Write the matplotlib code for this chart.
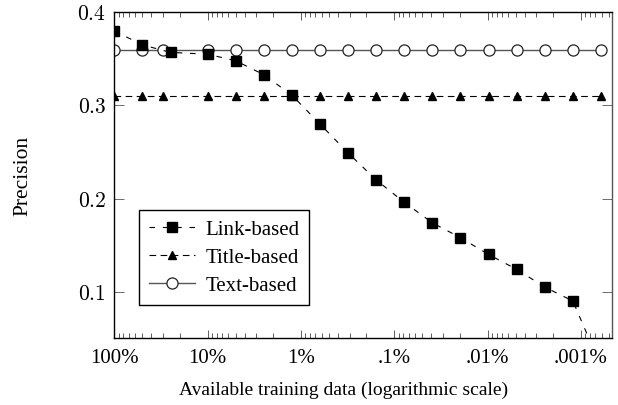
import matplotlib
matplotlib.use("Agg")
import matplotlib.pyplot as plt
from matplotlib.ticker import LogLocator, FixedLocator, FixedFormatter, NullFormatter

plt.rcParams['font.family'] = ['Liberation Serif', 'DejaVu Serif']
plt.rcParams['mathtext.fontset'] = 'cm'

# Data (percent of training data available)
x_link = [100, 50, 25, 10, 5, 2.5, 1.25, 0.625, 0.3125, 0.15625, 0.078125,
          0.0390625, 0.01953125, 0.009765625, 0.0048828125, 0.00244140625,
          0.001220703125, 0.0006103515625]
y_link = [0.380, 0.365, 0.357, 0.355, 0.348, 0.333, 0.311, 0.280, 0.249, 0.220,
          0.196, 0.174, 0.158, 0.140, 0.124, 0.105, 0.090, 0.020]

x_base = [100, 50, 30, 10, 5, 2.5, 1.25, 0.625, 0.3125, 0.15625, 0.078125,
          0.0390625, 0.01953125, 0.009765625, 0.0048828125, 0.00244140625,
          0.001220703125, 0.0006103515625]
y_title = [0.31] * len(x_base)
y_text = [0.36] * len(x_base)

xtick_vals = [100, 10, 1, 0.1, 0.01, 0.001]
xtick_labels = ['100%', '10%', '1%', '.1%', '.01%', '.001%']
ytick_vals = [0.1, 0.2, 0.3, 0.4]
ytick_labels = ['$0.1$', '$0.2$', '$0.3$', '$0.4$']

fig = plt.figure(figsize=(6.18, 4.06), dpi=100)
ax = fig.add_axes([0.185, 0.1643, 0.8048, 0.8029])

ax.plot(x_link, y_link, color='black', linestyle=(0, (5, 7)), linewidth=0.8,
        marker='s', markersize=7, markerfacecolor='black', markeredgecolor='black',
        label='Link-based', zorder=3)
ax.plot(x_base, y_title, color='black', linestyle=(0, (6, 4)), linewidth=0.8,
        marker='^', markersize=6, markerfacecolor='black', markeredgecolor='black',
        label='Title-based', zorder=2)
ax.plot(x_base, y_text, color='#555555', linestyle='-', linewidth=1.0,
        marker='o', markersize=8, markerfacecolor='white', markeredgecolor='#222222',
        markeredgewidth=0.9, label='Text-based', zorder=2)

ax.set_xscale('log')
ax.set_xlim(100, 0.000468)
ax.set_ylim(0.05, 0.4)

ax.xaxis.set_major_locator(FixedLocator(xtick_vals))
ax.xaxis.set_major_formatter(FixedFormatter(xtick_labels))
ax.xaxis.set_minor_locator(LogLocator(base=10, subs=range(2, 10), numticks=20))
ax.xaxis.set_minor_formatter(NullFormatter())
ax.yaxis.set_major_locator(FixedLocator(ytick_vals))
ax.yaxis.set_major_formatter(FixedFormatter(ytick_labels))

ax.tick_params(axis='x', which='major', direction='in', length=6, width=0.6,
               top=True, bottom=True, labelsize=15, pad=7, color='#444444')
ax.tick_params(axis='x', which='minor', direction='in', length=3.5, width=0.6,
               top=True, bottom=True, color='#444444')
ax.tick_params(axis='y', which='major', direction='in', length=7, width=0.6,
               left=True, right=True, labelsize=15.5, pad=6, color='#555555')

for side in ['left', 'top', 'bottom']:
    ax.spines[side].set_linewidth(1.0)
    ax.spines[side].set_color('black')
ax.spines['right'].set_linewidth(1.0)
ax.spines['right'].set_color('#555555')

ax.set_xlabel('Available training data (logarithmic scale)', fontsize=14, va='baseline')
ax.set_ylabel('Precision', fontsize=15.5, va='center')
ax.xaxis.set_label_coords(0.4618, -0.171)
ax.yaxis.set_label_coords(-0.1845, 0.5)

leg = ax.legend(loc='lower left', bbox_to_anchor=(0.05, 0.102), borderaxespad=0,
                fancybox=False, edgecolor='black', framealpha=1, fontsize=15,
                handlelength=2.2, handletextpad=0.5, borderpad=0.47, labelspacing=0.4)
leg.get_frame().set_linewidth(1.0)

fig.savefig('out.png', dpi=100)
